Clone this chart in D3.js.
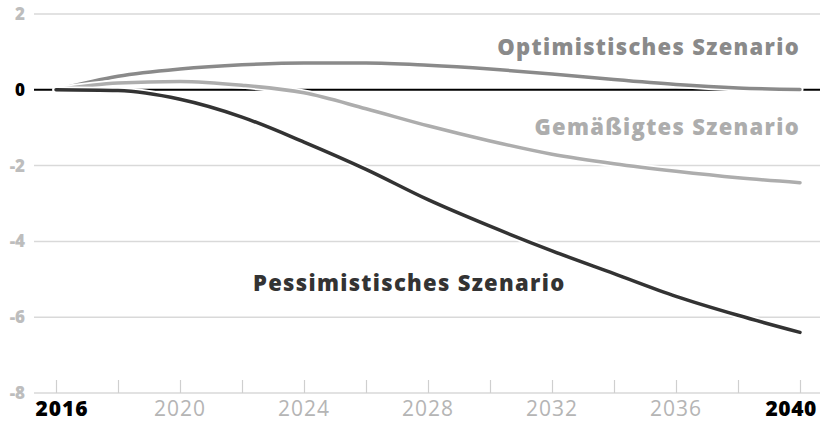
<!DOCTYPE html>
<html>
<head>
<meta charset="utf-8">
<script src="https://cdn.jsdelivr.net/npm/d3@7"></script>
<style>
  body { margin: 0; background: #fff; }
  svg { display: block; font-family: 'Open Sans', 'Noto Sans', sans-serif; }
</style>
</head>
<body>
<script>
const years = [2016, 2018, 2020, 2022, 2024, 2026, 2028, 2030, 2032, 2034, 2036, 2038, 2040]
const optimistic = [0, 0.36, 0.55, 0.66, 0.71, 0.71, 0.65, 0.55, 0.42, 0.27, 0.14, 0.05, 0.01]
const moderate = [0, 0.18, 0.22, 0.12, -0.08, -0.5, -0.95, -1.35, -1.7, -1.95, -2.15, -2.32, -2.45]
const pessimistic = [0, -0.02, -0.25, -0.72, -1.38, -2.1, -2.9, -3.6, -4.25, -4.85, -5.45, -5.95, -6.4]
const yTicks = [2, 0, -2, -4, -6, -8]
const xLabels = [2016, 2020, 2024, 2028, 2032, 2036, 2040]
const seriesNames = ['Optimistisches Szenario', 'Gemäßigtes Szenario', 'Pessimistisches Szenario']

const width = 824
const height = 423

const svg = d3.select('body')
  .append('svg')
  .attr('width', width)
  .attr('height', height)

const xScale = d3.scaleLinear()
  .domain([2016, 2040])
  .range([56, 800])
const yScale = d3.scaleLinear()
  .domain([-8, 2])
  .range([393, 14])

// horizontal grid
svg.append('g')
  .selectAll('line')
  .data(yTicks)
  .enter()
  .append('line')
  .attr('x1', 34)
  .attr('x2', 820)
  .attr('y1', d => yScale(d))
  .attr('y2', d => yScale(d))
  .attr('stroke', d => d === 0 ? '#000' : '#d9d9d9')
  .attr('stroke-width', d => d === 0 ? 2 : 1.5)

svg.append('g')
  .selectAll('text')
  .data(yTicks)
  .enter()
  .append('text')
  .text(d => d)
  .attr('x', 25)
  .attr('y', d => yScale(d) + 6)
  .attr('text-anchor', 'end')
  .attr('font-size', '17px')
  .attr('font-weight', 800)
  .attr('fill', d => d === 0 ? '#000' : '#bdbdbd')

// x ticks every two years, pointing up from the base line
const xAxis = d3.axisTop(xScale)
  .tickValues(years)
  .tickSize(13)
  .tickFormat('')
svg.append('g')
  .attr('transform', `translate(0, ${yScale(-8)})`)
  .call(xAxis)
  .call(g => g.select('.domain').remove())
  .call(g => g.selectAll('.tick line').attr('stroke', '#cfcfcf').attr('stroke-width', 1.2))

const isEnd = d => d === 2016 || d === 2040
svg.append('g')
  .selectAll('text')
  .data(xLabels)
  .enter()
  .append('text')
  .text(d => d)
  .attr('x', d => d === 2040 ? xScale(d) + 17 : xScale(d) + (d === 2016 ? 6 : 0))
  .attr('y', 416)
  .attr('text-anchor', d => d === 2040 ? 'end' : 'middle')
  .attr('font-size', '21px')
  .attr('letter-spacing', d => d === 2040 ? '0.6px' : '1px')
  .attr('font-weight', d => isEnd(d) ? 800 : 400)
  .attr('fill', d => isEnd(d) ? '#000' : '#b5b5b5')

const line = d3.line()
  .x((d, i) => xScale(years[i]))
  .y(d => yScale(d))
  .curve(d3.curveMonotoneX)

const series = [
  { values: optimistic, color: '#8a8a8a' },
  { values: moderate, color: '#adadad' },
  { values: pessimistic, color: '#333333' }
]

series.forEach(s => {
  svg.append('path')
    .attr('d', line(s.values))
    .attr('fill', 'none')
    .attr('stroke', '#fff')
    .attr('stroke-width', 7)
    .attr('stroke-linecap', 'round')
  svg.append('path')
    .attr('d', line(s.values))
    .attr('fill', 'none')
    .attr('stroke', s.color)
    .attr('stroke-width', 3.5)
    .attr('stroke-linecap', 'round')
})

// labels
const labelPos = [
  { x: 800, y: 55, anchor: 'end' },
  { x: 800, y: 135, anchor: 'end' },
  { x: 253, y: 291, anchor: 'start' }
]
svg.append('g')
  .selectAll('text')
  .data(seriesNames)
  .enter()
  .append('text')
  .text(d => d)
  .attr('x', (d, i) => labelPos[i].x)
  .attr('y', (d, i) => labelPos[i].y)
  .attr('text-anchor', (d, i) => labelPos[i].anchor)
  .attr('font-size', '22px')
  .attr('letter-spacing', '1.3px')
  .attr('font-weight', 800)
  .attr('fill', (d, i) => series[i].color)
</script>
</body>
</html>
